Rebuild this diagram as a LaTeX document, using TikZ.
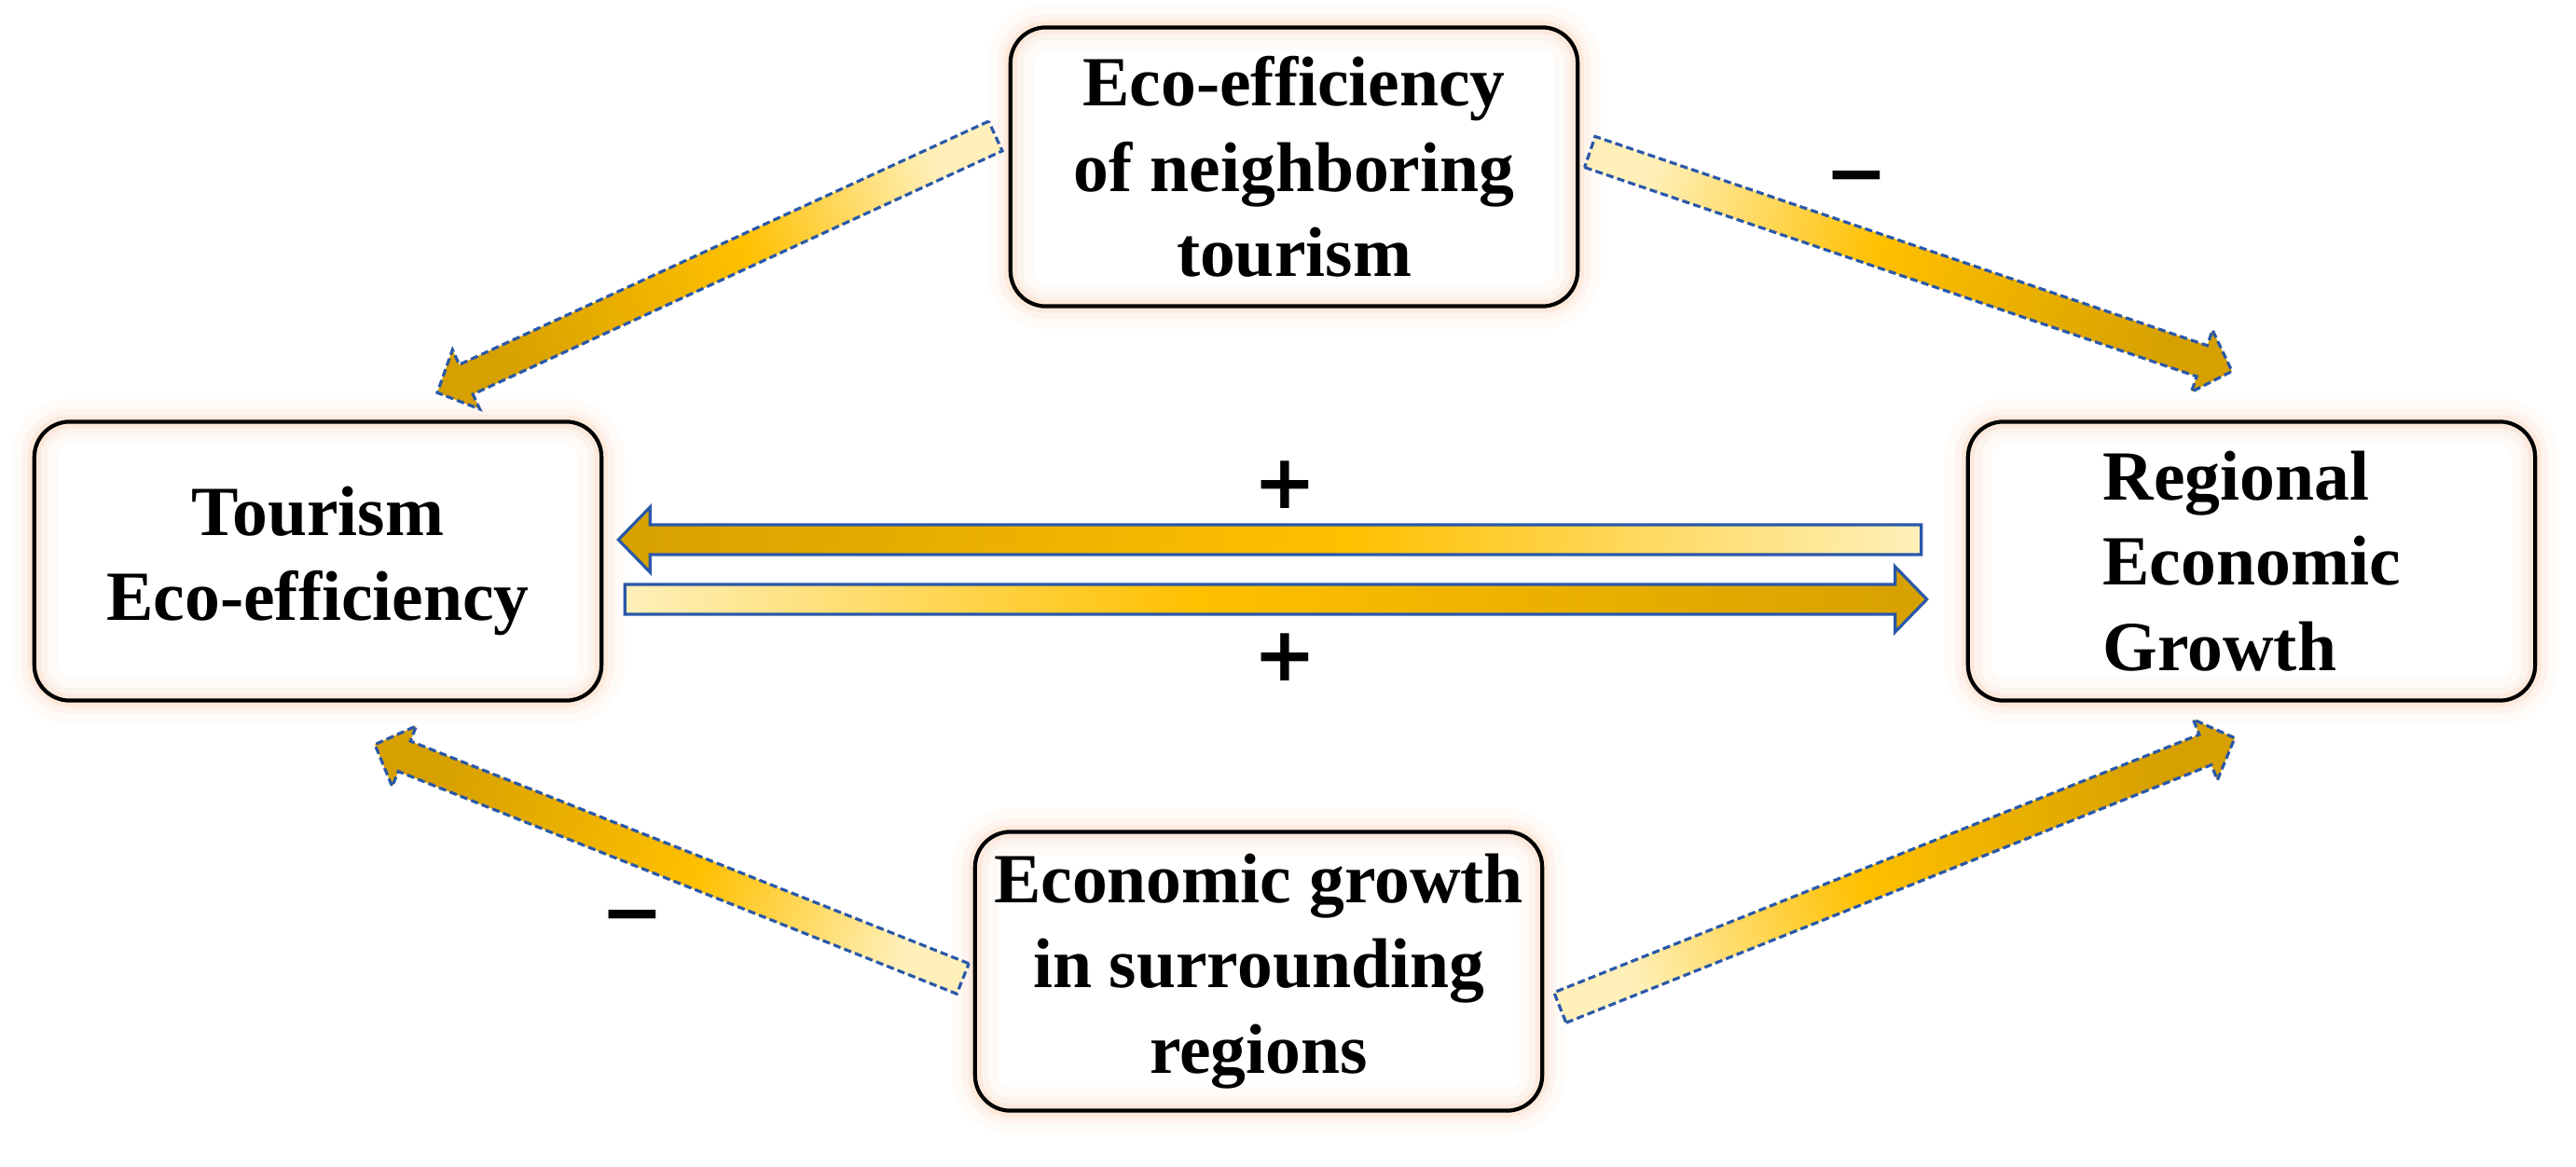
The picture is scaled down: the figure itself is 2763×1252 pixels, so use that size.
\documentclass[tikz,border=0pt]{standalone}
\usepackage{fontspec}
\setmainfont{Liberation Serif}
\newfontfamily\signfont{DejaVu Sans}
\usepackage{tikz}
\usetikzlibrary{calc}

\definecolor{boxglow}{HTML}{FBDCC6}
\definecolor{arrlight}{HTML}{FFF0BA}
\definecolor{arrmid}{HTML}{FFC000}
\definecolor{arrdark}{HTML}{D6A000}
\definecolor{arrline}{HTML}{2A58A8}

\pgfdeclarehorizontalshading{arrowshade}{100bp}{color(0bp)=(arrlight); color(25bp)=(arrlight);
  color(47bp)=(arrmid); color(75bp)=(arrdark); color(100bp)=(arrdark)}

\def\shaftw{0.16cm}
\def\headw{0.35cm}
\def\headl{0.34cm}
\newcommand\blockarrow[3][]{%
  \pgfpointdiff{\pgfpointanchor{#2}{center}}{\pgfpointanchor{#3}{center}}%
  \pgfgetlastxy\arrdx\arrdy
  \pgfmathsetmacro\arrlen{veclen(\arrdx,\arrdy)}%
  \pgfmathsetmacro\arrang{atan2(\arrdy,\arrdx)}%
  \begin{scope}[shift={(#2)}, rotate=\arrang]
    \shade[shading=arrowshade, shading angle=\arrang, #1]
      (0pt,-\shaftw) -- ({\arrlen pt-\headl},-\shaftw) -- ({\arrlen pt-\headl},-\headw)
      -- (\arrlen pt,0pt) -- ({\arrlen pt-\headl},\headw) -- ({\arrlen pt-\headl},\shaftw)
      -- (0pt,\shaftw) -- cycle;
  \end{scope}}

\begin{document}
\begin{tikzpicture}[x=0.01cm, y=-0.01cm,
  box/.style = {draw=black, line width=1.2pt, rounded corners=0.38cm,
    minimum width=6.08cm, minimum height=2.99cm, inner sep=2pt, align=center,
    font=\fontsize{21.5}{26}\selectfont\bfseries,
    preaction={fill=white},
    preaction={draw=boxglow, line width=14pt, opacity=.12},
    preaction={draw=boxglow, line width=8pt, opacity=.22},
    preaction={draw=boxglow, line width=4pt, opacity=.4}},
  sign/.style = {font=\signfont\bfseries\fontsize{23}{23}\selectfont, inner sep=0pt},
  dasharrow/.style = {draw=arrline, line width=0.9pt, dash pattern=on 2.3pt off 1.2pt},
  linearrow/.style = {draw=arrline, line width=0.9pt}
  ]
  \useasboundingbox (0,0) rectangle (2763,1252);

  \node[box] (T) at (341,602) {Tourism\\Eco-efficiency};
  \node[box] (N) at (1388,179) {Eco-efficiency\\of neighboring\\tourism};
  \node[box, align=left] (R) at (2415,602) {Regional\\Economic\\Growth};
  \node[box] (S) at (1350,1042) {Economic growth\\in surrounding\\regions};

  \coordinate (nt) at ($(N.west)+(-14,-33)$);
  \coordinate (tn) at ($(T.north)+(128,-29)$);
  \coordinate (nr) at ($(N.east)+(11,-16)$);
  \coordinate (rn) at ($(R.north)+(-21,-52)$);
  \coordinate (st) at ($(S.west)+(-11,8)$);
  \coordinate (ts) at ($(T.south)+(61,45)$);
  \coordinate (sr) at ($(S.east)+(17,39)$);
  \coordinate (rs) at ($(R.south)+(-18,38)$);
  \coordinate (rt) at ($(R.west)+(-48,-23)$);
  \coordinate (tr) at ($(T.east)+(16,-23)$);
  \coordinate (tr2) at ($(T.east)+(23,41)$);
  \coordinate (rt2) at ($(R.west)+(-42,41)$);

  \def\shaftw{0.175cm}
  \blockarrow[dasharrow]{nt}{tn}
  \blockarrow[dasharrow]{nr}{rn}
  \blockarrow[dasharrow]{st}{ts}
  \blockarrow[dasharrow]{sr}{rs}
  \def\shaftw{0.16cm}
  \blockarrow[linearrow]{rt}{tr}
  \blockarrow[linearrow]{tr2}{rt2}

  \node[sign] (p1) at (1378,520) {+};
  \node[sign] (p2) at (1378,705) {+};
  \node[sign] (m1) at (1991,198) {−};
  \node[sign] (m2) at (678,991) {−};
\end{tikzpicture}
\end{document}
